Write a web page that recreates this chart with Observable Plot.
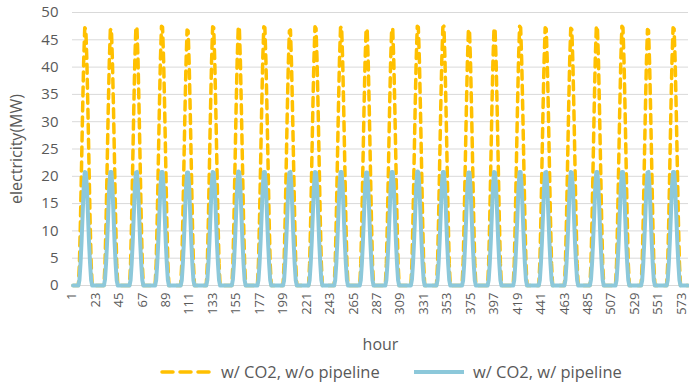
<!DOCTYPE html>
<html>
<head>
<meta charset="utf-8">
<script src="https://cdn.jsdelivr.net/npm/d3@7"></script>
<script src="https://cdn.jsdelivr.net/npm/@observablehq/plot@0.6"></script>
<style>
  html, body { margin: 0; padding: 0; background: #fff; }
  #wrap { position: relative; width: 689px; height: 385px; font-family: "Open Sans", Lato, sans-serif; color: #595959; }
  #legend { position: relative; height: 29px; font-size: 16.5px; }
  .item { position: absolute; top: 4px; display: flex; align-items: center; white-space: nowrap; }
  .item svg { margin-right: 7px; }
</style>
</head>
<body>
<div id="wrap">
  <div id="chart"></div>
  <div id="legend"></div>
</div>
<script>
// Hourly electricity use over 24 days; each row holds one day's producing hours
const totalHours = 578;
const firstActiveHour = 7;           // hour of day of the first value in each row
const seriesNames = ["w/ CO2, w/o pipeline", "w/ CO2, w/ pipeline"];
const xTickValues = [1, 23, 45, 67, 89, 111, 133, 155, 177, 199, 221, 243, 265, 287, 309, 331, 353, 375, 397, 419, 441, 463, 485, 507, 529, 551, 573];
const yTickValues = [0, 5, 10, 15, 20, 25, 30, 35, 40, 45, 50];

const noPipelineDays = [
  [4.0, 12.1, 22.1, 32.2, 41.1, 47.2, 46.9, 41.0, 31.9, 21.9, 12.0, 4.0],
  [3.9, 12.0, 21.8, 31.9, 40.8, 46.8, 47.0, 40.9, 32.1, 22.0, 11.9, 3.9],
  [4.1, 12.1, 22.2, 32.3, 41.3, 47.4, 47.1, 41.1, 32.0, 22.1, 12.0, 4.0],
  [4.0, 12.3, 22.3, 32.4, 41.4, 47.5, 47.3, 41.2, 32.2, 22.2, 12.1, 4.1],
  [3.9, 11.9, 21.7, 31.7, 40.6, 46.8, 46.6, 40.5, 31.6, 21.7, 11.8, 3.9],
  [4.0, 12.1, 22.1, 32.2, 41.1, 47.4, 47.2, 41.0, 32.0, 22.0, 12.0, 4.0],
  [4.0, 12.2, 22.2, 32.3, 41.2, 47.1, 47.4, 41.3, 32.1, 22.1, 12.0, 4.0],
  [4.1, 12.2, 22.2, 32.3, 41.2, 47.4, 47.2, 41.1, 32.1, 22.1, 12.1, 4.0],
  [3.9, 11.8, 21.6, 31.6, 40.5, 46.6, 46.8, 40.6, 31.7, 21.8, 11.9, 3.9],
  [4.0, 12.1, 22.1, 32.2, 41.1, 47.4, 47.1, 41.0, 32.0, 22.0, 12.0, 4.0],
  [4.0, 12.2, 22.2, 32.3, 41.3, 47.2, 47.4, 41.2, 32.2, 22.1, 12.1, 4.0],
  [4.0, 12.0, 21.9, 32.0, 40.9, 47.0, 46.8, 40.8, 31.9, 21.9, 12.0, 4.0],
  [4.0, 12.0, 22.0, 32.1, 41.0, 47.1, 46.9, 40.9, 32.0, 22.0, 12.0, 4.0],
  [4.1, 12.3, 22.3, 32.4, 41.4, 47.5, 47.3, 41.2, 32.2, 22.2, 12.1, 4.1],
  [4.0, 12.2, 22.2, 32.3, 41.2, 47.3, 47.5, 41.3, 32.3, 22.2, 12.2, 4.0],
  [3.9, 11.9, 21.8, 31.8, 40.7, 46.9, 46.7, 40.6, 31.7, 21.8, 11.9, 3.9],
  [4.0, 12.0, 22.0, 32.1, 41.0, 47.1, 46.9, 40.9, 32.0, 22.0, 12.0, 4.0],
  [4.1, 12.2, 22.3, 32.4, 41.3, 47.5, 47.2, 41.1, 32.1, 22.1, 12.1, 4.0],
  [4.0, 12.1, 22.1, 32.2, 41.1, 47.2, 47.0, 41.0, 32.0, 22.0, 12.0, 4.0],
  [4.0, 12.0, 22.0, 32.1, 41.0, 47.1, 46.9, 40.9, 31.9, 21.9, 12.0, 4.0],
  [4.1, 12.2, 22.2, 32.3, 41.3, 47.3, 47.5, 41.3, 32.2, 22.2, 12.1, 4.0],
  [4.0, 12.2, 22.3, 32.4, 41.3, 47.5, 47.2, 41.1, 32.1, 22.1, 12.1, 4.0],
  [3.9, 11.9, 21.8, 31.8, 40.7, 46.9, 46.7, 40.6, 31.7, 21.8, 11.9, 3.9],
  [4.0, 12.1, 22.1, 32.2, 41.1, 47.2, 47.0, 41.0, 32.0, 22.0, 12.0, 4.0]
];

const pipelineDays = [
  [1.0, 4.0, 8.1, 13.0, 18.0, 20.8, 20.7, 18.0, 13.0, 8.0, 4.0, 1.0],
  [1.1, 4.1, 8.1, 13.1, 18.1, 20.8, 20.8, 17.9, 12.9, 7.9, 3.9, 0.9],
  [1.0, 4.0, 8.0, 12.9, 18.0, 20.7, 20.8, 18.0, 13.0, 8.0, 4.0, 1.0],
  [1.0, 4.0, 8.1, 13.0, 18.0, 20.8, 20.8, 18.1, 13.0, 8.0, 4.0, 1.0],
  [0.9, 3.9, 8.0, 12.9, 17.9, 20.7, 20.7, 17.9, 12.9, 7.9, 3.9, 0.9],
  [1.0, 4.0, 8.1, 13.0, 18.0, 20.8, 20.7, 18.0, 13.0, 8.0, 4.0, 1.0],
  [1.1, 4.1, 8.2, 13.1, 18.1, 20.9, 20.8, 18.0, 13.0, 8.0, 4.0, 1.0],
  [1.0, 4.0, 8.1, 13.0, 18.0, 20.8, 20.8, 18.0, 13.0, 8.0, 4.0, 1.0],
  [0.9, 3.9, 8.0, 12.9, 17.9, 20.7, 20.8, 18.0, 12.9, 7.9, 3.9, 0.9],
  [1.0, 4.0, 8.1, 13.0, 18.0, 20.8, 20.7, 18.0, 13.0, 8.0, 4.0, 1.0],
  [1.0, 4.0, 8.1, 13.0, 18.1, 20.8, 20.8, 18.0, 13.0, 8.0, 4.0, 1.0],
  [1.0, 4.0, 8.0, 12.9, 18.0, 20.7, 20.7, 18.0, 12.9, 7.9, 4.0, 1.0],
  [1.0, 4.0, 8.1, 13.0, 18.0, 20.8, 20.8, 18.0, 13.0, 8.0, 4.0, 1.0],
  [1.1, 4.1, 8.1, 13.0, 18.1, 20.9, 20.8, 18.0, 13.0, 8.0, 4.0, 1.0],
  [1.0, 4.0, 8.1, 13.0, 18.0, 20.8, 20.8, 18.1, 13.0, 8.0, 4.0, 1.0],
  [0.9, 3.9, 8.0, 12.9, 17.9, 20.7, 20.7, 17.9, 12.9, 7.9, 3.9, 0.9],
  [1.0, 4.0, 8.1, 13.0, 18.0, 20.8, 20.7, 18.0, 13.0, 8.0, 4.0, 1.0],
  [1.0, 4.0, 8.1, 13.0, 18.0, 20.8, 20.8, 18.0, 13.0, 8.0, 4.0, 1.0],
  [1.0, 4.0, 8.1, 13.0, 18.0, 20.7, 20.8, 18.0, 13.0, 8.0, 4.0, 1.0],
  [1.0, 4.0, 8.0, 12.9, 18.0, 20.8, 20.7, 18.0, 12.9, 7.9, 4.0, 1.0],
  [1.1, 4.1, 8.1, 13.0, 18.1, 20.8, 20.8, 18.0, 13.0, 8.0, 4.0, 1.0],
  [1.0, 4.0, 8.1, 13.0, 18.0, 20.8, 20.8, 18.1, 13.0, 8.0, 4.0, 1.0],
  [0.9, 3.9, 8.0, 12.9, 17.9, 20.7, 20.8, 17.9, 12.9, 7.9, 3.9, 0.9],
  [1.0, 4.0, 8.1, 13.0, 18.0, 20.8, 20.8, 18.0, 13.0, 8.0, 4.0, 1.0]
];

const orange = "#FFC000";
const blue = "#8CC8DA";
const dash = "9,6";

// Expand daily rows into a continuous hourly series (idle hours are zero)
function hourly(days) {
  const values = new Array(totalHours).fill(0);
  days.forEach((row, d) => {
    row.forEach((v, k) => { values[d * 24 + firstActiveHour - 1 + k] = v; });
  });
  return values.map((v, i) => ({hour: i + 1, value: v}));
}
const noPipeline = hourly(noPipelineDays);
const withPipeline = hourly(pipelineDays);

const chart = Plot.plot({
  width: 689,
  height: 356,
  marginLeft: 72,
  marginRight: 1,
  marginTop: 12,
  marginBottom: 71,
  style: {fontFamily: "'Open Sans', Lato, sans-serif", color: "#595959", background: "#fff"},
  x: {domain: [0.5, totalHours + 0.5]},
  y: {domain: [0, 50]},
  marks: [
    Plot.gridY(yTickValues, {stroke: "#d9d9d9", strokeOpacity: 1, strokeWidth: 1}),
    Plot.axisY({ticks: yTickValues, tickSize: 0, tickPadding: 14, fontSize: 15,
      label: "electricity(MW)", labelAnchor: "center", labelArrow: "none", labelOffset: 62}),
    Plot.axisX({ticks: xTickValues, tickFormat: d => String(d), tickSize: 0, tickPadding: 7,
      tickRotate: -90, fontSize: 13, dx: -1,
      label: "hour", labelAnchor: "center", labelArrow: "none", labelOffset: 64}),
    Plot.line(noPipeline, {x: "hour", y: "value", stroke: orange, strokeWidth: 3.5,
      strokeDasharray: dash, strokeLinecap: "round", strokeLinejoin: "round"}),
    Plot.line(withPipeline, {x: "hour", y: "value", stroke: blue, strokeWidth: 4,
      strokeLinejoin: "round"})
  ]
});
// axis label sizes
chart.querySelectorAll("[aria-label='y-axis label'] text, [aria-label='x-axis label'] text").forEach(t => t.setAttribute("font-size", "16"));
document.getElementById("chart").appendChild(chart);

// Legend below the plot
const legend = document.getElementById("legend");
const items = [
  {name: seriesNames[0], color: orange, dash: dash, left: 160, w: 54},
  {name: seriesNames[1], color: blue, dash: null, left: 412, w: 54}
];
for (const it of items) {
  const div = document.createElement("div");
  div.className = "item";
  div.style.left = it.left + "px";
  const sw = d3.create("svg").attr("width", it.w).attr("height", 12);
  sw.append("line").attr("x1", 2).attr("x2", it.w - 2).attr("y1", 6).attr("y2", 6)
    .attr("stroke", it.color).attr("stroke-width", it.dash ? 3.5 : 4)
    .attr("stroke-dasharray", it.dash ? "11,7" : null).attr("stroke-linecap", it.dash ? "round" : "butt");
  div.appendChild(sw.node());
  const span = document.createElement("span");
  span.textContent = it.name;
  div.appendChild(span);
  legend.appendChild(div);
}
</script>
</body>
</html>
